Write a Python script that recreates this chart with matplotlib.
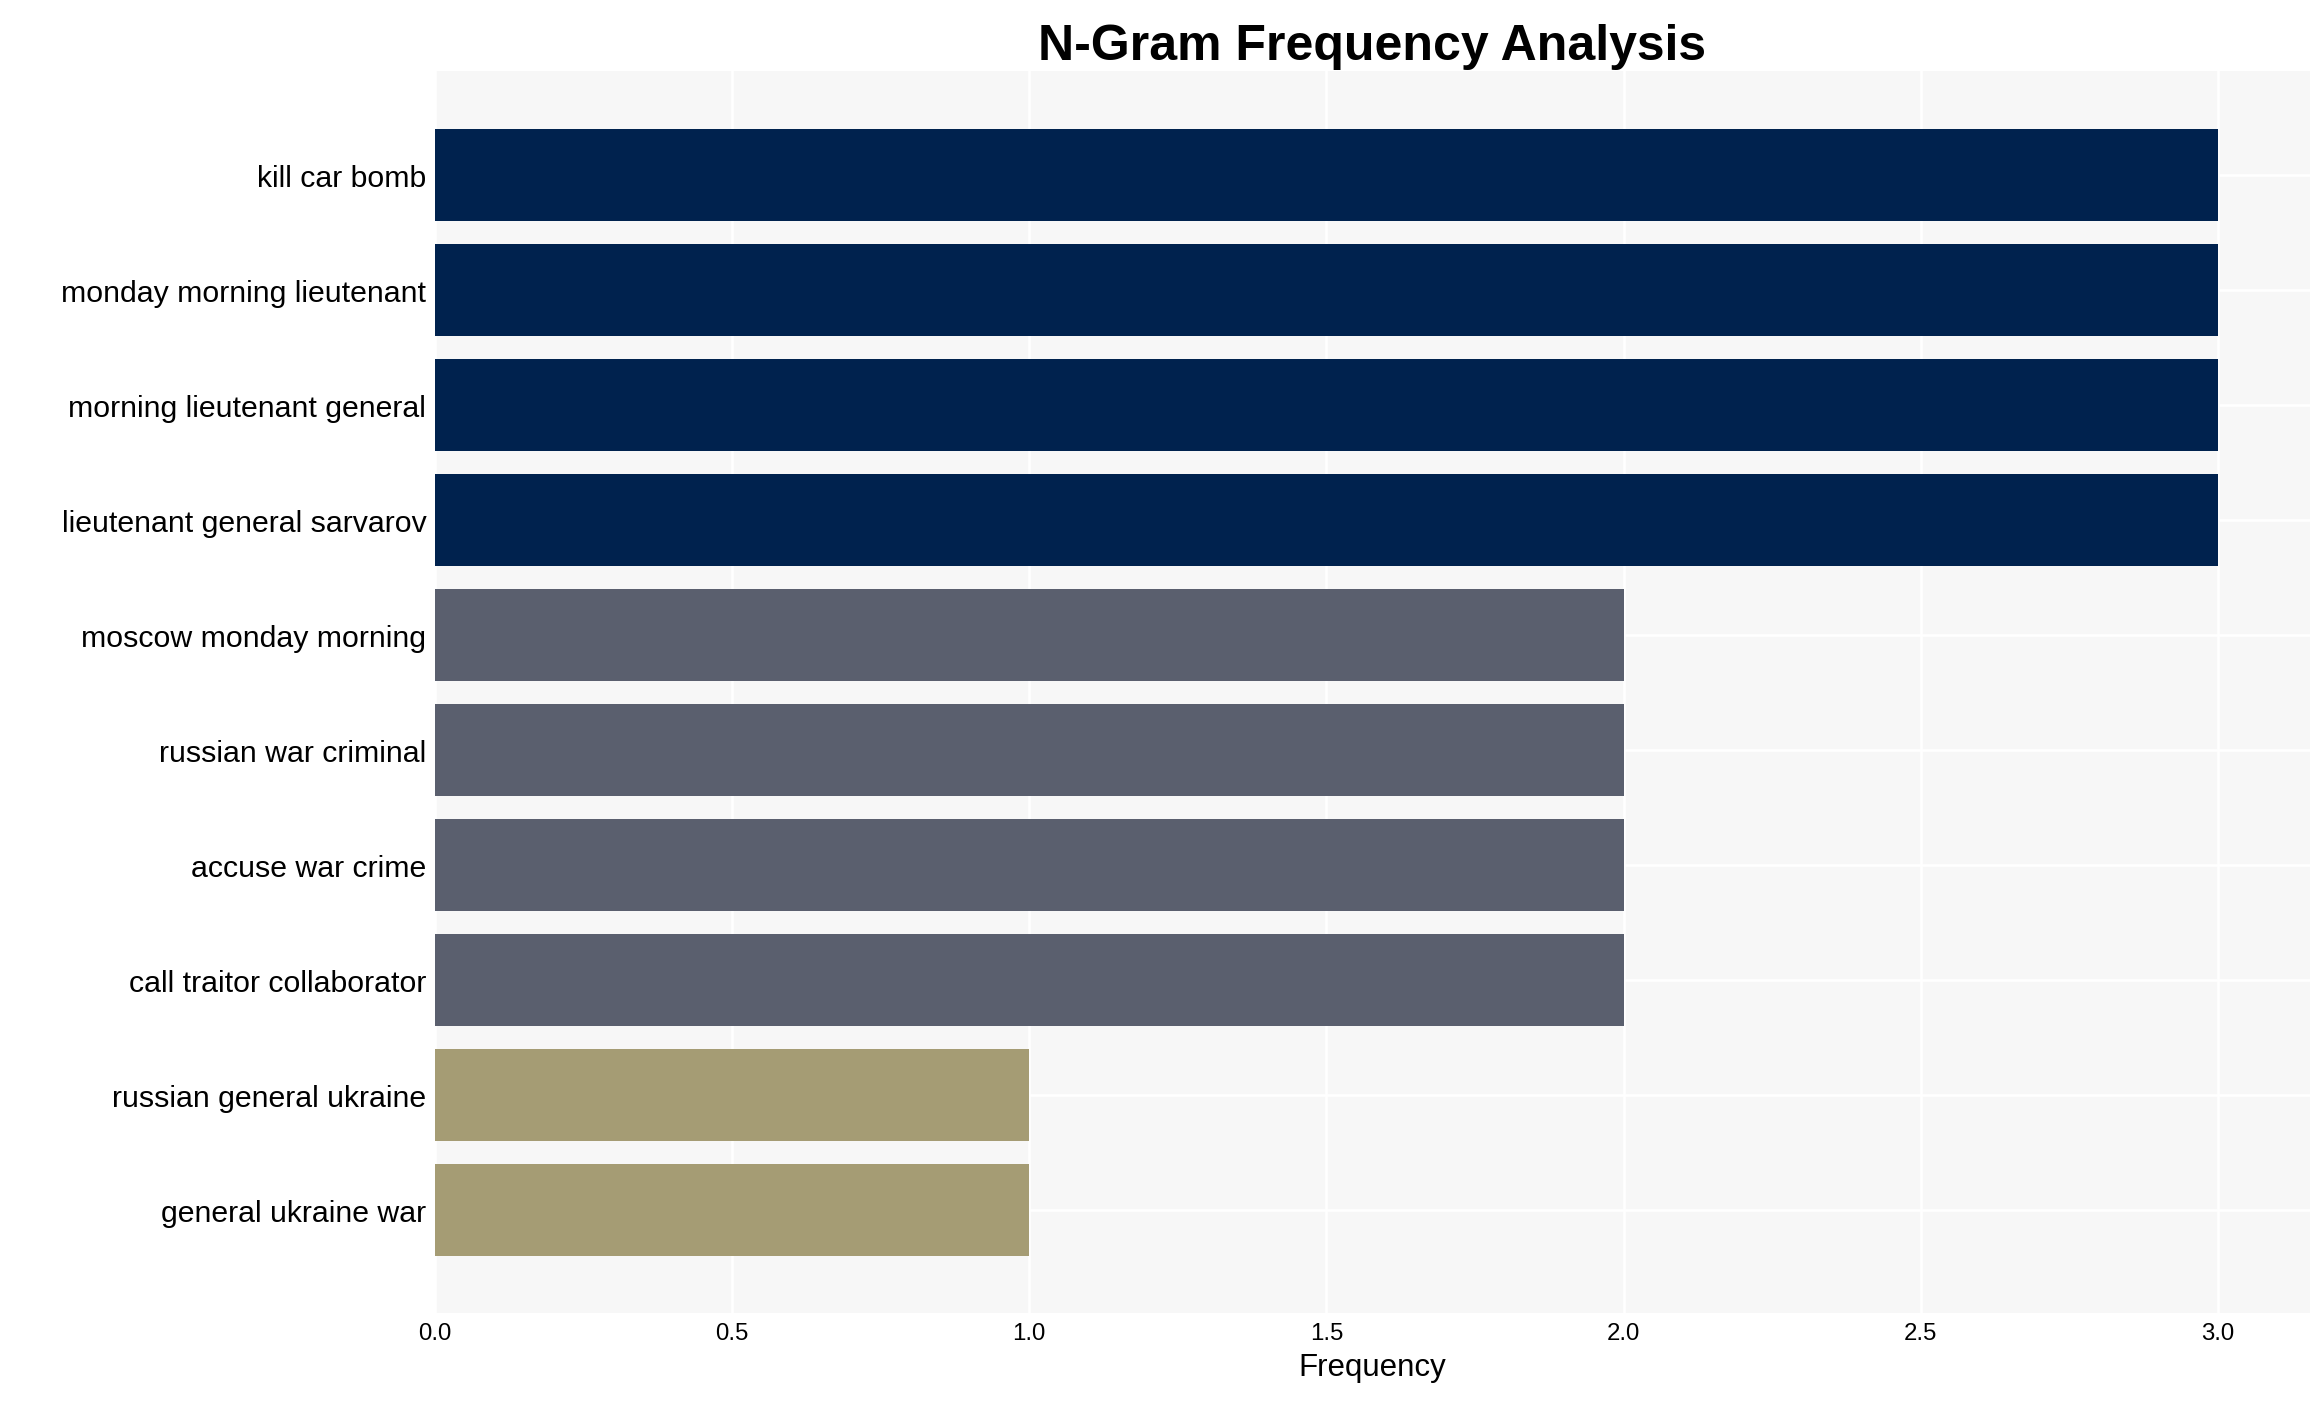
import matplotlib
matplotlib.use("Agg")
import matplotlib.pyplot as plt

labels = ["kill car bomb", "monday morning lieutenant", "morning lieutenant general",
          "lieutenant general sarvarov", "moscow monday morning", "russian war criminal",
          "accuse war crime", "call traitor collaborator", "russian general ukraine",
          "general ukraine war"]
values = [3, 3, 3, 3, 2, 2, 2, 2, 1, 1]
colors = ["#00224e"]*4 + ["#5a5f6e"]*4 + ["#a59c74"]*2
xticks = [0.0, 0.5, 1.0, 1.5, 2.0, 2.5, 3.0]

plt.rcParams['font.family'] = ['Liberation Sans', 'DejaVu Sans']
fig = plt.figure(figsize=(2312/150, 1402/150), dpi=150)
ax = fig.add_axes([0.188, 0.0625, 0.811, 0.886])
ax.set_facecolor("#f7f7f7")
ax.barh(range(len(labels)), values, height=0.8, color=colors, zorder=2)
ax.set_yticks(range(len(labels)))
ax.set_yticklabels(labels, fontsize=14.5)
ax.set_xticks(xticks)
ax.set_xticklabels([f"{t:.1f}" for t in xticks], fontsize=11.5)
ax.set_xlim(0, 3.154)
ax.set_ylim(9.9, -0.9)
ax.grid(True, color="white", linewidth=1.2, zorder=0)
for s in ax.spines.values():
    s.set_visible(False)
ax.tick_params(length=0, pad=4)
ax.set_xlabel("Frequency", fontsize=15)
ax.set_title("N-Gram Frequency Analysis", fontsize=24, fontweight="bold", pad=6)
fig.savefig("out.png", dpi=150)
